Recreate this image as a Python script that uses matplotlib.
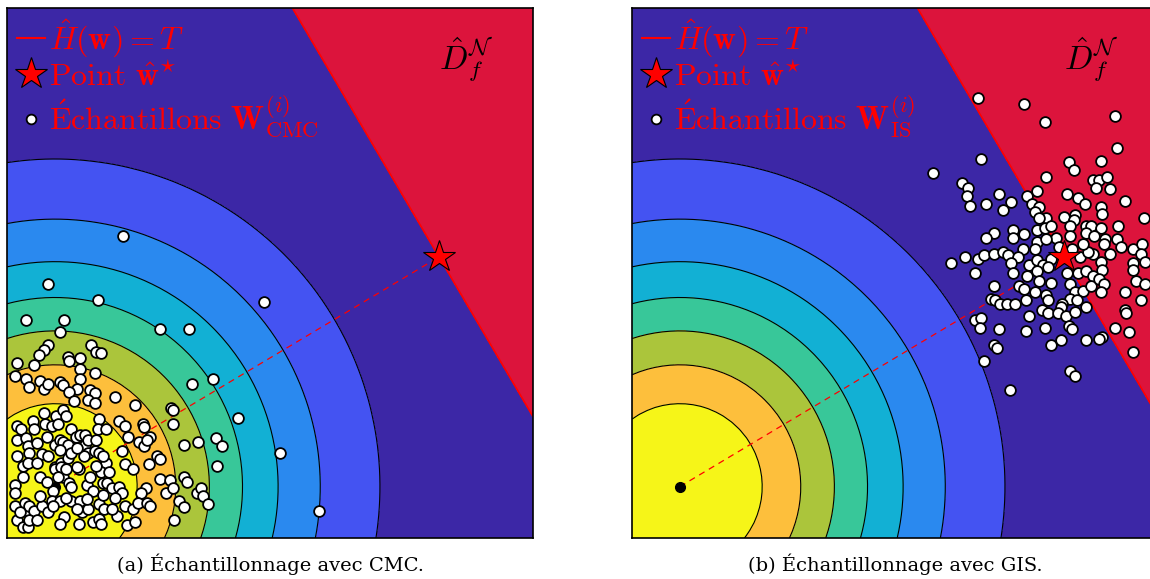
import numpy as np
import matplotlib
matplotlib.use("Agg")
import matplotlib.pyplot as plt
from matplotlib.lines import Line2D

plt.rcParams['mathtext.fontset'] = 'cm'

# design point (same in both panels) and pdf level fractions
w_star = [2.41, 1.43]
pdf_levels = [0.0, 0.125, 0.25, 0.375, 0.5, 0.625, 0.75, 0.875, 1.0]

# CMC samples (visible part)
cmc_x = [0.03, 0.66, 0.84, -0.04, -0.07, -0.10, 0.23, 0.26, 0.29, 0.08, 0.16, -0.24, -0.13, 0.09, 0.16, 0.25,
         -0.25, -0.18, -0.16, -0.09, -0.07, -0.04, 0.03, 0.05, 0.16, 0.14, 0.09, 0.22, 0.25, 0.38, 0.86, 0.99,
         0.12, 0.21, 0.25, 0.50, 0.73, 0.74, -0.24, -0.21, -0.14, -0.13, -0.07, -0.06, -0.02, 0.01, 0.02, 0.05,
         0.07, 0.28, 0.27, 0.32, 0.40, 0.44, 0.46, 0.55, 0.56, 0.60, 0.74, 1.15, 0.90, 0.81, -0.24, -0.18,
         -0.17, -0.16, -0.11, 0.00, 0.03, 0.05, 0.08, 0.10, 0.13, 0.16, 0.19, 0.19, 0.21, 0.26, 0.53, 0.56,
         0.58, 1.01, 1.05, -0.24, -0.20, -0.17, -0.08, -0.04, 0.00, 0.04, 0.08, 0.10, 0.15, 0.21, 0.25, 0.28,
         0.32, 0.30, 0.42, 0.44, 0.49, 0.59, 0.64, 0.66, 0.81, 0.83, 1.02, 1.41, -0.25, -0.20, -0.09, -0.01,
         0.00, 0.04, 0.05, 0.09, 0.10, 0.14, 0.20, 0.24, 0.29, 0.30, 0.33, 0.36, 0.40, 0.42, 0.57, 0.54,
         0.66, 0.70, 0.72, 0.74, 0.89, 0.92, 0.93, 0.96, 0.78, 0.81, -0.25, -0.25, -0.19, -0.17, -0.16, -0.13,
         -0.08, -0.04, -0.02, 0.03, 0.06, 0.10, 0.16, 0.17, 0.21, 0.28, 0.31, 0.38, 0.39, 0.44, 0.45, 0.49,
         0.50, 0.52, 0.58, 0.60, 0.75, -0.24, -0.20, -0.17, -0.16, 0.03, 0.15, 0.24, 0.28, 0.29, 1.66,
         0.43, -0.04, 0.27, -0.18, 0.06, 1.31,
         -0.11, -0.05, 0.18, 0.14, 0.02, 0.07, 0.22, 0.26, 0.34, -0.09, -0.01, 0.14, 0.20, 0.36, -0.22, -0.11,
         0.07, 0.30, 0.03, -0.05]
cmc_y = [0.96, 0.98, 0.98, 0.88, 0.85, 0.82, 0.88, 0.84, 0.83, 0.81, 0.80, 0.77, 0.76, 0.78, 0.73, 0.71,
         0.69, 0.67, 0.62, 0.66, 0.61, 0.64, 0.65, 0.63, 0.67, 0.61, 0.59, 0.60, 0.58, 0.56, 0.64, 0.67,
         0.53, 0.54, 0.52, 0.51, 0.49, 0.48, 0.38, 0.36, 0.41, 0.36, 0.46, 0.39, 0.38, 0.44, 0.39, 0.48,
         0.44, 0.42, 0.36, 0.36, 0.41, 0.38, 0.31, 0.39, 0.37, 0.31, 0.39, 0.43, 0.28, 0.26, 0.29, 0.30,
         0.25, 0.21, 0.27, 0.26, 0.29, 0.28, 0.26, 0.36, 0.31, 0.32, 0.26, 0.32, 0.29, 0.29, 0.28, 0.25,
         0.29, 0.30, 0.25, 0.19, 0.13, 0.15, 0.20, 0.19, 0.12, 0.15, 0.18, 0.21, 0.11, 0.21, 0.22, 0.21,
         0.15, 0.19, 0.22, 0.14, 0.11, 0.14, 0.19, 0.17, 0.06, 0.03, 0.13, 0.21, 0.01, 0.06, 0.06, -0.03,
         0.11, 0.12, 0.06, 0.02, 0.00, 0.12, 0.01, -0.03, 0.09, 0.02, 0.02, -0.01, 0.00, -0.04, -0.01, -0.04,
         0.05, -0.04, 0.04, -0.01, -0.04, -0.01, -0.06, -0.11, -0.09, -0.13, -0.04, -0.12, -0.10, -0.15, -0.12, -0.15,
         -0.12, -0.16, -0.09, -0.09, -0.19, -0.09, -0.09, -0.16, -0.14, -0.11, -0.14, -0.07, -0.18, -0.12, -0.24, -0.14,
         -0.22, -0.10, -0.10, -0.12, -0.21, -0.21, -0.25, -0.25, -0.21, -0.23, -0.23, -0.22, -0.20, -0.23, -0.15,
         1.56, 1.26, 1.16, 1.04, 1.04, 1.15,
         0.15, 0.03, 0.19, 0.24, 0.06, 0.11, 0.06, 0.13, 0.09, -0.06, -0.12, -0.14, -0.08, -0.14, -0.16, -0.21,
         -0.07, -0.05, 0.23, 0.31]

# GIS samples (visible part)
is_x = [1.59, 1.89, 1.77, 1.81, 1.80, 1.82, 1.92, 2.00, 2.08, 2.03, 2.18, 2.24, 2.21, 2.25, 2.23, 2.30,
        2.44, 2.47, 2.64, 2.59, 2.63, 2.68, 2.61, 2.70, 2.79, 2.43, 2.50, 2.54, 2.64, 2.65, 2.91, 2.75,
        2.30, 2.41, 2.48, 2.47, 2.25, 2.09, 2.09, 2.16, 2.24, 2.29, 2.33, 2.36, 2.24, 2.30, 2.23, 2.15,
        1.97, 1.92, 2.45, 2.45, 2.55, 2.58, 2.64, 2.55, 2.60, 2.67, 2.74, 2.66, 2.77, 2.84, 2.90, 2.89,
        2.70, 2.59, 2.51, 2.56, 2.38, 2.46, 2.53, 1.70, 1.79, 1.87, 1.91, 1.97, 2.03, 2.06, 2.12, 2.08,
        2.19, 2.24, 2.28, 2.33, 2.31, 1.85, 2.09, 2.18, 2.24, 2.25, 2.33, 2.43, 2.50, 2.55, 2.59, 2.64,
        2.65, 2.84, 2.84, 2.86, 2.92, 2.92, 1.97, 1.95, 1.98, 2.01, 2.05, 2.10, 2.13, 2.16, 2.23, 2.30,
        2.31, 2.17, 2.45, 2.48, 2.53, 2.58, 2.63, 2.66, 2.64, 2.45, 2.49, 2.55, 2.40, 2.39, 2.27, 2.31,
        2.37, 2.42, 2.48, 2.19, 2.79, 2.89, 2.79, 2.80, 1.85, 1.89, 1.88, 2.00, 2.17, 2.29, 2.44, 2.46,
        2.55, 2.65, 2.63, 2.73, 2.82, 2.33, 2.39, 1.97, 1.99, 2.84, 1.91, 2.45, 2.48, 2.07,
        1.87, 2.16, 2.29, 2.73, 2.74]
is_y = [1.95, 2.04, 1.89, 1.86, 1.81, 1.75, 1.76, 1.82, 1.77, 1.72, 1.81, 1.84, 1.76, 1.74, 1.71, 1.93,
        2.02, 1.97, 2.03, 1.91, 1.91, 1.93, 1.86, 1.85, 1.78, 1.82, 1.80, 1.76, 1.74, 1.70, 1.67, 1.62,
        1.67, 1.68, 1.69, 1.66, 1.67, 1.60, 1.55, 1.57, 1.60, 1.61, 1.62, 1.55, 1.52, 1.54, 1.48, 1.48,
        1.58, 1.55, 1.62, 1.56, 1.62, 1.62, 1.61, 1.58, 1.56, 1.54, 1.54, 1.51, 1.49, 1.48, 1.51, 1.45,
        1.45, 1.45, 1.43, 1.46, 1.49, 1.48, 1.51, 1.39, 1.43, 1.42, 1.44, 1.45, 1.46, 1.44, 1.43, 1.39,
        1.38, 1.41, 1.38, 1.42, 1.37, 1.33, 1.33, 1.31, 1.34, 1.28, 1.27, 1.33, 1.33, 1.34, 1.31, 1.40,
        1.35, 1.39, 1.35, 1.28, 1.40, 1.26, 1.25, 1.17, 1.16, 1.14, 1.14, 1.14, 1.25, 1.23, 1.21, 1.19,
        1.16, 1.16, 1.26, 1.21, 1.22, 1.25, 1.29, 1.26, 1.21, 1.17, 1.16, 1.12, 1.14, 1.12, 1.10, 1.08,
        1.08, 1.06, 1.09, 1.06, 1.21, 1.16, 1.10, 1.08, 1.04, 1.05, 0.99, 0.98, 0.97, 0.99, 1.00, 0.98,
        0.91, 0.93, 0.92, 0.99, 0.96, 0.88, 0.91, 0.88, 0.86, 0.84, 0.78, 0.72, 0.69, 0.60,
        2.42, 2.38, 2.27, 2.31, 2.11]

panels = [(cmc_x, cmc_y, r"$\mathrm{\acute{E}chantillons}\ \mathbf{W}^{(i)}_{\mathrm{CMC}}$",
           "(a) Échantillonnage avec CMC."),
          (is_x, is_y, r"$\mathrm{\acute{E}chantillons}\ \mathbf{W}^{(i)}_{\mathrm{IS}}$",
           "(b) Échantillonnage avec GIS.")]

region_colors = ['#3c27a6', '#4453f2', '#2a89ef', '#12b0d4', '#38c799', '#abc53b', '#fdbf3c', '#f6f518']

fig = plt.figure(figsize=(11.5, 5.79), dpi=100)
axes = [fig.add_axes([0.0061, 0.0708, 0.4574, 0.9154]),
        fig.add_axes([0.5496, 0.0708, 0.4574, 0.9154])]

xlim = (-0.3, 3.0)
ylim = (-0.32, 2.98)
gx = np.linspace(xlim[0], xlim[1], 70)
gy = np.linspace(ylim[0], ylim[1], 70)
X, Y = np.meshgrid(gx, gy)
pdf = np.exp(-(X**2 + Y**2) / 2)
beta = np.hypot(*w_star)
lin = (X * w_star[0] + Y * w_star[1]) / beta - beta

for ax, (sx, sy, slabel, caption) in zip(axes, panels):
    ax.contourf(X, Y, pdf, levels=pdf_levels, colors=region_colors)
    ax.contour(X, Y, pdf, levels=pdf_levels[1:-1], colors='black', linewidths=0.8)
    ax.contourf(X, Y, lin, levels=[0, 10], colors='crimson')
    ax.contour(X, Y, lin, levels=[0], colors='red', linewidths=1.2)
    ax.plot([0, w_star[0]], [0, w_star[1]], color='red', ls=(0, (5, 4)), lw=0.9)
    ax.plot(0, 0, 'o', color='black', ms=7)
    ax.scatter(sx, sy, s=60, facecolor='white', edgecolor='black', linewidth=1.3, zorder=3)
    ax.plot(w_star[0], w_star[1], marker='*', ms=24, mfc='red', mec='black', mew=0.8, zorder=4)
    ax.text(2.58, 2.66, r"$\hat{D}_f^{\mathcal{N}}$", fontsize=24, color='black', ha='center', va='center')
    ax.set_xlim(xlim)
    ax.set_ylim(ylim)
    ax.set_xticks([])
    ax.set_yticks([])
    for sp in ax.spines.values():
        sp.set_linewidth(1.2)

    handles = [Line2D([], [], color='red', lw=1.5),
               Line2D([], [], marker='*', ls='none', ms=24, mfc='red', mec='black', mew=0.8),
               Line2D([], [], marker='o', ls='none', ms=7, mfc='white', mec='black', mew=1.3)]
    labels = [r"$\hat{H}(\mathbf{w}) = T$", r"$\mathrm{Point}\ \hat{\mathbf{w}}^{\star}$", slabel]
    ax.legend(handles, labels, loc='upper left', frameon=False, fontsize=23, labelcolor='red',
              handlelength=0.9, handletextpad=0.1, borderaxespad=0.0, borderpad=0.3,
              labelspacing=0.05)

    pos = ax.get_position()
    fig.text(pos.x0 + pos.width / 2, 0.025, caption, ha='center', va='center',
             fontsize=14, family='DejaVu Serif')

fig.savefig('out.png', dpi=100)
